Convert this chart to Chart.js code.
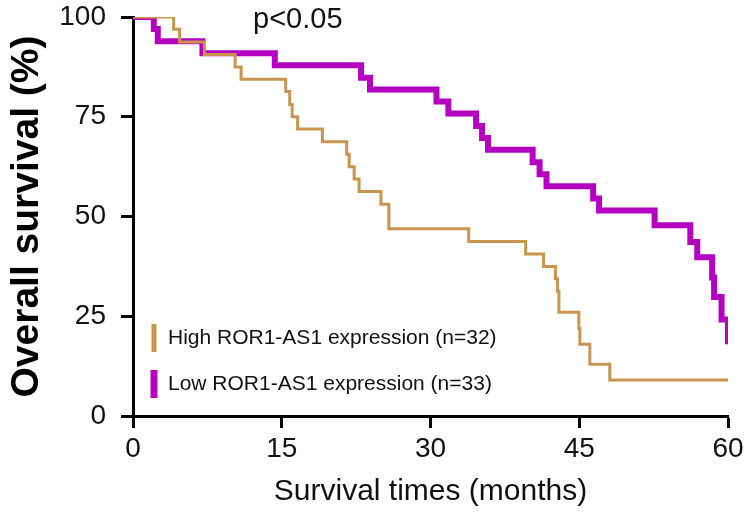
<!DOCTYPE html>
<html>
<head>
<meta charset="utf-8">
<script src="https://cdn.jsdelivr.net/npm/chart.js@4.4.0/dist/chart.umd.min.js"></script>
<style>
  html, body { margin: 0; padding: 0; background: #fff; }
  #wrap { width: 750px; height: 532px; }
</style>
</head>
<body>
<div id="wrap"><canvas id="survivalChart"></canvas></div>
<script>
// tick labels
const monthTicks = [0, 15, 30, 45, 60];
const survivalTicks = [0, 25, 50, 75, 100];

// High ROR1-AS1 expression (n=32): drop times (months) and survival after each drop (%)
const highTimes    = [0, 4.1, 4.7, 7.2, 10.3, 10.9, 15.4, 15.8, 16.05, 16.6, 19.1, 21.55, 21.8, 22.3, 22.8, 25.0, 25.8, 33.85, 39.6, 41.4, 42.6, 42.8, 42.95, 44.96, 45.06, 46.07, 48.08, 60];
const highSurvival = [100, 96.9, 93.75, 90.6, 87.5, 84.4, 81.3, 78.1, 75, 71.9, 68.75, 65.6, 62.5, 59.4, 56.25, 53.1, 46.9, 43.75, 40.6, 37.5, 34.4, 31.25, 26, 21.9, 18, 13, 9, 9];

// Low ROR1-AS1 expression (n=33)
const lowTimes    = [0, 2.1, 2.5, 7.0, 14.3, 23.0, 23.9, 30.6, 31.8, 34.6, 35.2, 35.8, 40.3, 41.0, 41.7, 46.4, 47.0, 52.6, 56.2, 56.9, 58.4, 58.6, 59.35, 60];
const lowSurvival = [100, 97, 93.9, 90.9, 87.9, 84.8, 81.8, 78.8, 75.8, 72.7, 69.7, 66.7, 63.6, 60.6, 57.6, 54.5, 51.5, 47.8, 43.6, 39.8, 34.7, 29.8, 24.2, 18];

const seriesLabels = ['High ROR1-AS1 expression (n=32)', 'Low ROR1-AS1 expression (n=33)'];
const pValueText = 'p<0.05';

const FONT = '"Liberation Sans", Arial, sans-serif';

const toPoints = (xs, ys) => xs.map((x, i) => ({ x: x, y: ys[i] }));

// legend drawn inside the plot, bottom left, as short vertical bars
const insideLegend = {
    id: 'insideLegend',
    afterDatasetsDraw(chart) {
        const { ctx, chartArea } = chart;
        ctx.save();
        ctx.textBaseline = 'middle';
        ctx.textAlign = 'left';
        ctx.font = '21px ' + FONT;
        chart.data.datasets.forEach((ds, i) => {
            const y = chartArea.bottom - 78 + i * 46;
            ctx.fillStyle = ds.borderColor;
            const w = i === 0 ? 5 : 7;
            ctx.fillRect(chartArea.left + 21 - w / 2, y - 14, w, 28);
            ctx.fillStyle = '#111';
            ctx.fillText(ds.label, chartArea.left + 35, y);
        });
        // p value
        ctx.font = '29px ' + FONT;
        ctx.fillStyle = '#111';
        ctx.fillText(pValueText, chartArea.left + 120, chartArea.top + 3);
        ctx.restore();
    }
};

new Chart(document.getElementById('survivalChart').getContext('2d'), {
    type: 'line',
    plugins: [insideLegend],
    data: {
        datasets: [{
            label: seriesLabels[0],
            data: toPoints(highTimes, highSurvival),
            borderColor: '#C9954E',
            borderWidth: 3,
            stepped: true,
            pointRadius: 0,
            fill: false,
            order: 1
        }, {
            label: seriesLabels[1],
            data: toPoints(lowTimes, lowSurvival),
            borderColor: '#B400C0',
            borderWidth: 6,
            stepped: true,
            pointRadius: 0,
            fill: false,
            order: 2
        }]
    },
    options: {
        responsive: true,
        maintainAspectRatio: false,
        animation: false,
        layout: { padding: { top: 17, right: 22, left: 0, bottom: 0 } },
        plugins: {
            legend: { display: false },
            tooltip: { enabled: false }
        },
        scales: {
            x: {
                type: 'linear',
                min: 0,
                max: 60,
                afterBuildTicks: (scale) => { scale.ticks = monthTicks.map(v => ({ value: v })); },
                afterFit: (scale) => { scale.height = 116; },
                border: { color: '#000', width: 3 },
                grid: { drawOnChartArea: false, tickLength: 12, tickColor: '#000', tickWidth: 3 },
                ticks: { color: '#111', font: { family: FONT, size: 28 }, padding: 4, maxRotation: 0 },
                title: {
                    display: true,
                    text: 'Survival times (months)',
                    color: '#111',
                    font: { family: FONT, size: 30 },
                    padding: { top: 0, bottom: 22 }
                }
            },
            y: {
                min: 0,
                max: 100,
                afterBuildTicks: (scale) => { scale.ticks = survivalTicks.map(v => ({ value: v })); },
                afterFit: (scale) => {
                    scale.width = 133;
                    // keep the plot top where the reference has it
                    scale.paddingTop = 0;
                    scale.paddingBottom = 0;
                },
                border: { color: '#000', width: 3 },
                grid: { drawOnChartArea: false, tickLength: 12, tickColor: '#000', tickWidth: 3 },
                ticks: { color: '#111', font: { family: FONT, size: 28 }, padding: 15 },
                title: {
                    display: true,
                    text: 'Overall survival (%)',
                    color: '#000',
                    font: { family: FONT, size: 39, weight: 'bold' },
                    padding: { top: 4, bottom: 0 }
                }
            }
        }
    }
});
</script>
</body>
</html>
